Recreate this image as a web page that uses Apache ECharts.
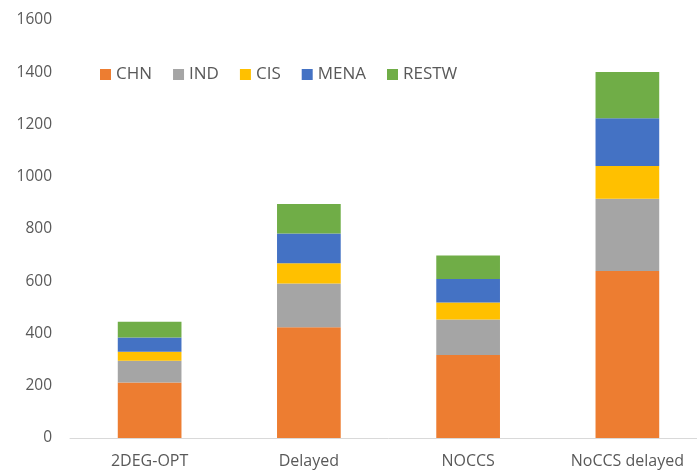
<!DOCTYPE html>
<html>
<head>
<meta charset="utf-8">
<script src="https://cdn.jsdelivr.net/npm/echarts@6/dist/echarts.min.js"></script>
<style>
  html, body { margin: 0; padding: 0; background: #fff; overflow: hidden; }
  /* a bit wider than the window: the original is cropped on the right */
  #chart { width: 707px; height: 474px; }
</style>
</head>
<body>
<div id="chart"></div>
<script>
// scenarios on the x axis
var scenarios = ['2DEG-OPT', 'Delayed', 'NOCCS', 'NoCCS delayed'];
// regional values per scenario
var chn   = [212, 424, 318, 639];
var ind   = [84, 167, 136, 277];
var cis   = [34, 78, 65, 125];
var mena  = [55, 114, 90, 183];
var restw = [60, 113, 90, 177];
var yTicks = [0, 200, 400, 600, 800, 1000, 1200, 1400, 1600];

(function () {
  var myChart = echarts.init(document.getElementById('chart'));
  var font = 'Open Sans';
  function bar(name, data, color) {
    return {
      name: name,
      type: 'bar',
      stack: 'total',
      barWidth: '40%',
      itemStyle: { color: color },
      data: data
    };
  }
  var option = {
    animation: false,
    textStyle: { fontFamily: font },
    grid: { left: 70, right: 0, top: 20, bottom: 36 },
    legend: {
      left: 95,
      top: 61,
      itemWidth: 11,
      itemHeight: 11,
      itemGap: 21,
      icon: 'rect',
      textStyle: { fontSize: 17, color: '#595959', fontFamily: font }
    },
    xAxis: {
      type: 'category',
      data: scenarios,
      axisTick: { show: false },
      axisLine: { lineStyle: { color: '#d9d9d9', width: 1 } },
      axisLabel: { color: '#595959', fontSize: 16, margin: 15 }
    },
    yAxis: {
      type: 'value',
      min: yTicks[0],
      max: yTicks[yTicks.length - 1],
      interval: 200,
      splitLine: { show: false },
      axisLine: { show: false },
      axisTick: { show: false },
      axisLabel: {
        color: '#595959',
        fontSize: 15.5,
        margin: 18,
        formatter: function (v) { return String(v); }
      }
    },
    series: [
      bar('CHN', chn, '#ed7d31'),
      bar('IND', ind, '#a5a5a5'),
      bar('CIS', cis, '#ffc000'),
      bar('MENA', mena, '#4472c4'),
      bar('RESTW', restw, '#70ad47')
    ]
  };
  myChart.setOption(option);
  window.addEventListener('resize', function () {
    myChart.resize();
  });
})();
</script>
</body>
</html>
